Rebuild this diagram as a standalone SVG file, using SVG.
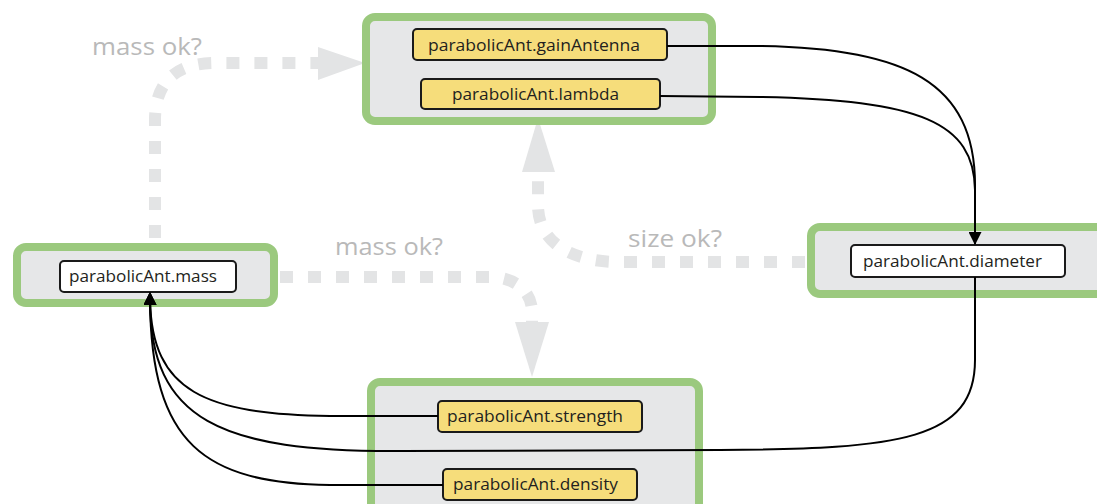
<svg xmlns="http://www.w3.org/2000/svg" width="1097" height="504" viewBox="0 0 1097 504">
  <defs>
    <style>
      .group { fill: #e6e7e8; stroke: #9bc97e; stroke-width: 8; }
      .var { stroke: #1a1a1a; stroke-width: 2; }
      .in { fill: #f6dd7b; }
      .out { fill: #ffffff; }
      .vtext { font-family: "Open Sans", "Liberation Sans", sans-serif; font-size: 17px; fill: #231f20; }
      .wire { fill: none; stroke: #000000; stroke-width: 2; }
      .check { fill: none; stroke: #e3e4e5; stroke-width: 12; stroke-dasharray: 13 15; }
      .head { fill: #e3e4e5; }
      .ask { font-family: "Open Sans", "Liberation Sans", sans-serif; font-size: 24px; fill: #b9b9b9; }
    </style>
    <marker id="arrow" viewBox="0 0 12 12" refX="11" refY="6" markerWidth="13" markerHeight="13" markerUnits="userSpaceOnUse" orient="auto">
      <path d="M0,0 L12,6 L0,12 Z" fill="#000000"/>
    </marker>
  </defs>

  <!-- feedback loops (dashed) -->
  <g id="checks">
    <path class="check" d="M155,238 L155,120 C155,82 176,63 215,63 L320,63"/>
    <polygon class="head" points="318,47 365,63 318,80"/>
    <text class="ask" x="92" y="55" textLength="110" lengthAdjust="spacingAndGlyphs">mass ok?</text>

    <path class="check" d="M805,262 L620,262 C570,262 538,242 538,205 L538,172"/>
    <polygon class="head" points="522,172 555,172 538,118"/>
    <text class="ask" x="628" y="247" textLength="94" lengthAdjust="spacingAndGlyphs">size ok?</text>

    <path class="check" d="M280,277 L490,277 C516,277 532,292 532,312 L532,324"/>
    <polygon class="head" points="515,322 549,322 532,377"/>
    <text class="ask" x="335" y="255" textLength="108" lengthAdjust="spacingAndGlyphs">mass ok?</text>
  </g>

  <!-- groups -->
  <g id="antenna-group">
    <rect class="group" x="366" y="17" width="346" height="104" rx="9"/>
    <g id="gainAntenna">
      <rect class="var in" x="413" y="29" width="254" height="31" rx="4"/>
      <text class="vtext" x="428" y="51" textLength="212" lengthAdjust="spacingAndGlyphs">parabolicAnt.gainAntenna</text>
    </g>
    <g id="lambda">
      <rect class="var in" x="421" y="79" width="239" height="30" rx="4"/>
      <text class="vtext" x="452" y="100" textLength="167" lengthAdjust="spacingAndGlyphs">parabolicAnt.lambda</text>
    </g>
  </g>

  <g id="mass-group">
    <rect class="group" x="17" y="247" width="257" height="56" rx="9"/>
    <g id="mass">
      <rect class="var out" x="60" y="261" width="176" height="31" rx="4"/>
      <text class="vtext" x="69" y="282" textLength="148" lengthAdjust="spacingAndGlyphs">parabolicAnt.mass</text>
    </g>
  </g>

  <g id="diameter-group">
    <rect class="group" x="811" y="227" width="300" height="67" rx="9"/>
    <g id="diameter">
      <rect class="var out" x="851" y="245" width="214" height="32" rx="4"/>
      <text class="vtext" x="863" y="267" textLength="179" lengthAdjust="spacingAndGlyphs">parabolicAnt.diameter</text>
    </g>
  </g>

  <g id="material-group">
    <rect class="group" x="371" y="382" width="328" height="140" rx="9"/>
    <g id="strength">
      <rect class="var in" x="438" y="401" width="204" height="31" rx="4"/>
      <text class="vtext" x="447" y="422" textLength="176" lengthAdjust="spacingAndGlyphs">parabolicAnt.strength</text>
    </g>
    <g id="density">
      <rect class="var in" x="443" y="469" width="194" height="31" rx="4"/>
      <text class="vtext" x="453" y="490" textLength="165" lengthAdjust="spacingAndGlyphs">parabolicAnt.density</text>
    </g>
  </g>

  <!-- dependencies -->
  <g id="connectors">
    <path class="wire" d="M667,46 L760,46 C905,48 975,82 975,185 L975,244" marker-end="url(#arrow)"/>
    <path class="wire" d="M660,96 L760,97 C920,100 974,122 975,190"/>
    <path class="wire" d="M975,277 L975,360 C975,440 900,449 720,450 L400,451 C220,452 150,420 150,300 L150,293" marker-end="url(#arrow)"/>
    <path class="wire" d="M438,416 L330,416 C205,414 152,392 150,300 L150,293" marker-end="url(#arrow)"/>
    <path class="wire" d="M443,485 L330,485 C205,483 151,445 150,300 L150,293" marker-end="url(#arrow)"/>
  </g>
</svg>
